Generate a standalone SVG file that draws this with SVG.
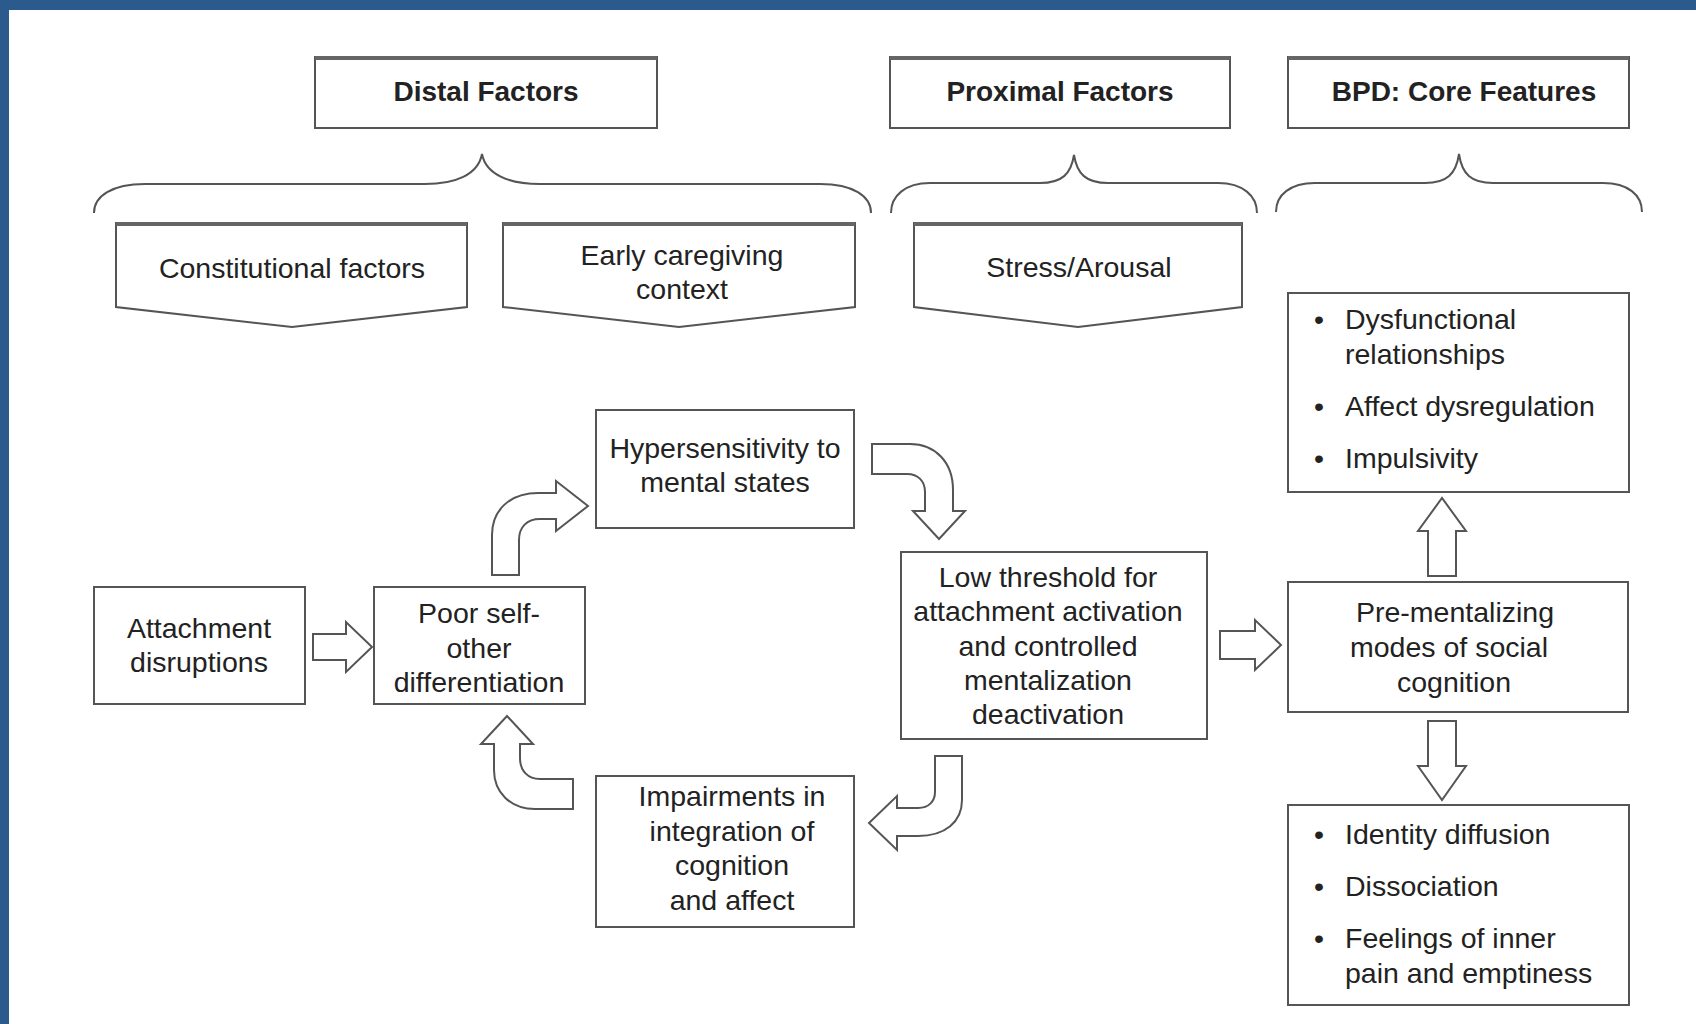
<svg xmlns="http://www.w3.org/2000/svg" width="1696" height="1024" viewBox="0 0 1696 1024">
  <style>
    .box { fill: #fff; stroke: #555; stroke-width: 2; }
    .topbar { stroke: #666; stroke-width: 4; }
    .brace { fill: none; stroke: #555; stroke-width: 2; }
    .blk { fill: #fff; stroke: #555; stroke-width: 2; stroke-linejoin: miter; }
    text { font-family: "Liberation Sans", Arial, sans-serif; font-size: 28.5px; fill: #222; }
    .hdr { font-weight: bold; font-size: 28px; }
    .c { text-anchor: middle; }
  </style>

  <!-- page frame -->
  <rect x="0" y="0" width="1696" height="1024" fill="#fff"/>
  <rect x="0" y="0" width="1696" height="10" fill="#2a5b8c"/>
  <rect x="0" y="0" width="9" height="1024" fill="#2a5b8c"/>

  <!-- column headers -->
  <g id="hdr-distal">
    <rect class="box" x="315" y="57" width="342" height="71"/>
    <line class="topbar" x1="315" y1="58" x2="657" y2="58"/>
    <text class="hdr c" x="486" y="101">Distal Factors</text>
  </g>
  <g id="hdr-proximal">
    <rect class="box" x="890" y="57" width="340" height="71"/>
    <line class="topbar" x1="890" y1="58" x2="1230" y2="58"/>
    <text class="hdr c" x="1060" y="101">Proximal Factors</text>
  </g>
  <g id="hdr-bpd">
    <rect class="box" x="1288" y="57" width="341" height="71"/>
    <line class="topbar" x1="1288" y1="58" x2="1629" y2="58"/>
    <text class="hdr c" x="1464" y="101">BPD: Core Features</text>
  </g>

  <!-- factor chevrons -->
  <g id="constitutional">
    <path class="box" d="M116,223 H467 V307 L292,327 L116,307 Z"/>
    <line class="topbar" x1="116" y1="224" x2="467" y2="224"/>
    <text class="c" x="292" y="278">Constitutional factors</text>
  </g>
  <g id="caregiving">
    <path class="box" d="M503,223 H855 V307 L679,327 L503,307 Z"/>
    <line class="topbar" x1="503" y1="224" x2="855" y2="224"/>
    <text class="c" x="682" y="265">Early caregiving</text>
    <text class="c" x="682" y="299">context</text>
  </g>
  <g id="stress">
    <path class="box" d="M914,223 H1242 V307 L1078,327 L914,307 Z"/>
    <line class="topbar" x1="914" y1="224" x2="1242" y2="224"/>
    <text class="c" x="1079" y="277">Stress/Arousal</text>
  </g>

  <!-- process nodes -->
  <g id="attachment">
    <rect class="box" x="94" y="587" width="211" height="117"/>
    <text class="c" x="199" y="638">Attachment</text>
    <text class="c" x="199" y="672">disruptions</text>
  </g>
  <g id="poor-self-other">
    <rect class="box" x="374" y="587" width="211" height="117"/>
    <text class="c" x="479" y="623">Poor self-</text>
    <text class="c" x="479" y="658">other</text>
    <text class="c" x="479" y="692">differentiation</text>
  </g>
  <g id="hypersensitivity">
    <rect class="box" x="596" y="410" width="258" height="118"/>
    <text class="c" x="725" y="458">Hypersensitivity to</text>
    <text class="c" x="725" y="492">mental states</text>
  </g>
  <g id="low-threshold">
    <rect class="box" x="901" y="552" width="306" height="187"/>
    <text class="c" x="1048" y="587">Low threshold for</text>
    <text class="c" x="1048" y="621">attachment activation</text>
    <text class="c" x="1048" y="656">and controlled</text>
    <text class="c" x="1048" y="690">mentalization</text>
    <text class="c" x="1048" y="724">deactivation</text>
  </g>
  <g id="impairments">
    <rect class="box" x="596" y="776" width="258" height="151"/>
    <text class="c" x="732" y="806">Impairments in</text>
    <text class="c" x="732" y="841">integration of</text>
    <text class="c" x="732" y="875">cognition</text>
    <text class="c" x="732" y="910">and affect</text>
  </g>
  <g id="pre-mentalizing">
    <rect class="box" x="1288" y="582" width="340" height="130"/>
    <text class="c" x="1455" y="622">Pre-mentalizing</text>
    <text class="c" x="1449" y="657">modes of social</text>
    <text class="c" x="1454" y="692">cognition</text>
  </g>
  <g id="features-upper">
    <rect class="box" x="1288" y="293" width="341" height="199"/>
    <text x="1314" y="329">•</text><text x="1345" y="329">Dysfunctional</text>
    <text x="1345" y="364">relationships</text>
    <text x="1314" y="416">•</text><text x="1345" y="416">Affect dysregulation</text>
    <text x="1314" y="468">•</text><text x="1345" y="468">Impulsivity</text>
  </g>
  <g id="features-lower">
    <rect class="box" x="1288" y="805" width="341" height="200"/>
    <text x="1314" y="844">•</text><text x="1345" y="844">Identity diffusion</text>
    <text x="1314" y="896">•</text><text x="1345" y="896">Dissociation</text>
    <text x="1314" y="948">•</text><text x="1345" y="948">Feelings of inner</text>
    <text x="1345" y="983">pain and emptiness</text>
  </g>

  <!-- connectors: grouping braces and hollow block arrows -->
  <g id="connectors">
    <path class="brace" d="M94,213 C94,196 112,184 145,184 L425,184 C455,184 478,175 482,154 C486,175 510,184 540,184 L820,184 C853,184 871,196 871,213"/>
    <path class="brace" d="M891,213 C891,196 905,183 930,183 L1040,183 C1062,183 1071,174 1074,155 C1077,174 1086,183 1108,183 L1218,183 C1243,183 1257,196 1257,213"/>
    <path class="brace" d="M1276,212 C1276,195 1290,183 1315,183 L1425,183 C1447,183 1456,174 1459,154 C1462,174 1471,183 1493,183 L1603,183 C1628,183 1642,195 1642,212"/>

    <!-- attachment -> poor self-other -->
    <path class="blk" d="M313,634 H346 V622 L372,647 L346,672 V660 H313 Z"/>
    <!-- poor self-other -> hypersensitivity -->
    <path class="blk" d="M492,575 V535 C492,510 510,493 538,493 H556 V481 L588,506 L556,531 V519 H540 C527,519 519,527 519,540 V575 Z"/>
    <!-- hypersensitivity -> low threshold -->
    <path class="blk" d="M872,444 H910 C935,444 953,462 953,490 V511 H965 L939,539 L913,511 H925 V492 C925,481 918,474 907,474 H872 Z"/>
    <!-- low threshold -> impairments -->
    <path class="blk" d="M935,756 H962 V800 C962,822 945,836 918,836 H897 V850 L869,823 L897,796 V808 H918 C929,808 935,801 935,792 Z"/>
    <!-- impairments -> poor self-other -->
    <path class="blk" d="M573,779 H540 C528,779 520,771 520,758 V744 H533 L507,716 L481,744 H494 V770 C494,792 510,809 535,809 H573 Z"/>
    <!-- low threshold -> pre-mentalizing -->
    <path class="blk" d="M1220,631 H1255 V620 L1281,645 L1255,670 V659 H1220 Z"/>
    <!-- pre-mentalizing -> upper features -->
    <path class="blk" d="M1428,576 V531 H1418 L1442,498 L1466,531 H1456 V576 Z"/>
    <!-- pre-mentalizing -> lower features -->
    <path class="blk" d="M1428,721 V766 H1418 L1442,800 L1466,766 H1456 V721 Z"/>
  </g>
</svg>
